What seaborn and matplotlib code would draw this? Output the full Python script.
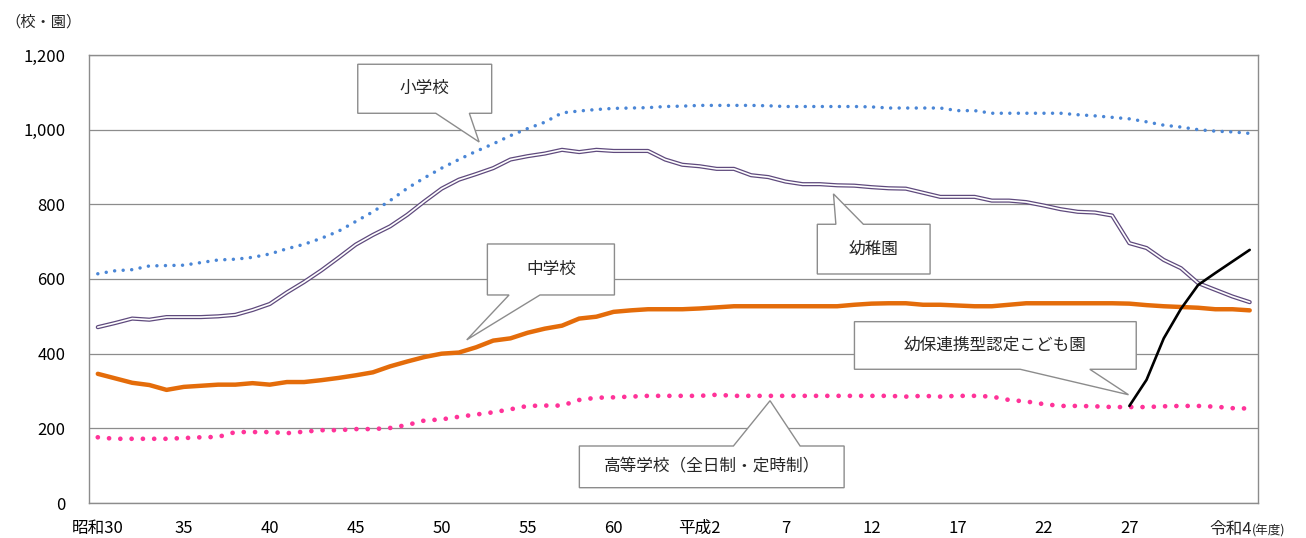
import numpy as np
import pandas as pd
import matplotlib
matplotlib.use("Agg")
import matplotlib.pyplot as plt
from matplotlib.patches import Polygon
from matplotlib.ticker import FuncFormatter, FixedLocator
import seaborn as sns

# 年度 (昭和30 = 1955 … 令和4 = 2022)
years = list(range(1955, 2023))

elementary = [614, 622, 625, 635, 636, 637, 644, 651, 653, 658,
              667, 681, 693, 709, 728, 754, 780, 810, 843, 871,
              897, 920, 942, 962, 984, 1003, 1020, 1045, 1050, 1054,
              1057, 1058, 1059, 1062, 1063, 1065, 1065, 1065, 1065, 1064,
              1062, 1062, 1062, 1062, 1062, 1061, 1058, 1058, 1058, 1058,
              1051, 1051, 1044, 1044, 1044, 1044, 1044, 1040, 1037, 1033,
              1029, 1021, 1012, 1007, 1000, 996, 994, 990]

kindergarten = [471, 482, 494, 491, 498, 498, 498, 500, 504, 517,
                533, 564, 592, 623, 657, 692, 718, 741, 772, 808,
                842, 866, 881, 897, 920, 929, 936, 946, 940, 946,
                943, 943, 943, 920, 906, 902, 895, 895, 878, 873,
                861, 854, 854, 851, 850, 846, 843, 842, 831, 820,
                820, 820, 810, 810, 806, 797, 787, 780, 778, 770,
                696, 683, 651, 629, 589, 571, 553, 538]

junior_high = [346, 334, 322, 316, 303, 311, 314, 317, 317, 321,
               317, 324, 324, 329, 335, 342, 350, 366, 379, 391,
               400, 403, 417, 435, 441, 456, 467, 475, 494, 499,
               512, 516, 519, 519, 519, 521, 524, 527, 527, 527,
               527, 527, 527, 527, 531, 534, 535, 535, 531, 531,
               529, 527, 527, 531, 535, 535, 535, 535, 535, 535,
               534, 530, 527, 525, 523, 519, 519, 516]

high_school = [176, 172, 172, 172, 172, 174, 176, 177, 190, 190,
               190, 187, 191, 195, 195, 198, 198, 201, 209, 221,
               224, 231, 237, 243, 251, 260, 261, 261, 276, 282,
               283, 285, 287, 287, 287, 287, 290, 287, 287, 287,
               287, 287, 287, 287, 287, 287, 287, 285, 287, 285,
               287, 287, 285, 276, 272, 265, 260, 260, 259, 257,
               257, 257, 259, 260, 260, 258, 254, 253]

# 幼保連携型認定こども園 (平成27年度から)
kodomoen = [np.nan] * 60 + [260, 330, 441, 520, 584, 616, 647, 678]

tick_years = [1955, 1960, 1965, 1970, 1975, 1980, 1985,
              1990, 1995, 2000, 2005, 2010, 2015]
tick_labels = ["昭和30", "35", "40", "45", "50", "55", "60",
               "平成2", "7", "12", "17", "22", "27"]

sns.set_style("white")
plt.rcParams["font.family"] = ["Noto Sans CJK JP", "DejaVu Sans"]

W, H = 1306, 538
fig = plt.figure(figsize=(W / 100, H / 100), dpi=100)
ax = fig.add_axes([89.2 / W, 1 - 503 / H, (1258.3 - 89.2) / W, (503 - 55) / H])

idx = np.arange(len(years))
df = pd.DataFrame({
    "i": idx,
    "小学校": elementary,
    "幼稚園": kindergarten,
    "中学校": junior_high,
    "高等学校": high_school,
    "こども園": kodomoen,
})

# 高等学校: pink round dots
sns.lineplot(data=df, x="i", y="高等学校", ax=ax, color="#ff3399", linewidth=3.4,
             linestyle=(0, (0.01, 2.38)), dash_capstyle="round", zorder=3)
# 中学校: thick orange
sns.lineplot(data=df, x="i", y="中学校", ax=ax, color="#e46c0a", linewidth=3.2,
             solid_capstyle="round", zorder=3)
# 幼稚園: double line (purple with white core)
sns.lineplot(data=df, x="i", y="幼稚園", ax=ax, color="#5f4a7d", linewidth=3.0, zorder=3)
sns.lineplot(data=df, x="i", y="幼稚園", ax=ax, color="white", linewidth=1.2, zorder=3.1)
# 小学校: blue round dots
sns.lineplot(data=df, x="i", y="小学校", ax=ax, color="#4a86d6", linewidth=2.5,
             linestyle=(0, (0.01, 2.45)), dash_capstyle="round", zorder=3)
# 幼保連携型認定こども園: black
sns.lineplot(data=df.dropna(), x="i", y="こども園", ax=ax, color="black", linewidth=1.9,
             zorder=4)

ax.set_xlim(-0.5, len(years) - 0.5)
ax.set_ylim(0, 1200)
ax.set_xlabel("")
ax.set_ylabel("")

# y axis
ax.set_yticks(range(0, 1201, 200))
ax.yaxis.set_major_formatter(FuncFormatter(lambda v, p: f"{int(v):,}"))
ax.tick_params(axis="y", length=0, pad=17, labelsize=12, labelcolor="black")
ax.yaxis.grid(True, color="#8c8c8c", linewidth=0.9)
ax.xaxis.grid(False)
ax.set_axisbelow(True)

# x axis: labels at category centres, tick marks at category boundaries
pos = [years.index(y) for y in tick_years]
ax.xaxis.set_major_locator(FixedLocator(pos))
ax.set_xticklabels(tick_labels)
ax.tick_params(axis="x", which="major", length=0, pad=12, labelsize=12,
               labelcolor="black")
ax.xaxis.set_minor_locator(FixedLocator([p - 0.5 for p in pos[1:]] + [64.5]))
ax.tick_params(axis="x", which="minor", direction="in", length=5, width=0.9,
               color="#8c8c8c")

for s in ax.spines.values():
    s.set_color("#8c8c8c")
    s.set_linewidth(1.0)
    s.set_visible(True)

# final year label
ax.annotate("令和4", xy=(67.14, 0), xycoords="data", xytext=(0, -13),
            textcoords="offset points", ha="right", va="top", fontsize=12)
ax.annotate("(年度)", xy=(67.14, 0), xycoords="data", xytext=(0, -15.5),
            textcoords="offset points", ha="left", va="top", fontsize=9)

fig.text(5 / W, 1 - 22 / H, "（校・園）", ha="left", va="center", fontsize=11)


def callout(text, box, base, tip, side):
    x0, x1, y0, y1 = box
    b1, b2 = base
    if side == "bottom":
        verts = [(x0, y1), (x1, y1), (x1, y0), (b2, y0), tip, (b1, y0), (x0, y0)]
    else:
        verts = [(x0, y0), (x1, y0), (x1, y1), (b2, y1), tip, (b1, y1), (x0, y1)]
    ax.add_patch(Polygon(verts, closed=True, facecolor="white", edgecolor="#8c8c8c",
                         linewidth=1.0, zorder=5, clip_on=False))
    ax.text((x0 + x1) / 2, (y0 + y1) / 2, text, ha="center", va="center",
            fontsize=12, zorder=6)


callout("小学校", (15.12, 22.91, 1043.9, 1175.2), (19.66, 21.61), (22.18, 967), "bottom")
callout("幼稚園", (41.85, 48.41, 613.4, 746.6), (42.93, 44.53), (42.79, 828), "top")
callout("中学校", (22.66, 30.05, 557.2, 693.8), (23.92, 25.72), (21.46, 437), "bottom")
callout("幼保連携型認定こども園", (44.01, 60.40, 358.2, 485.7), (53.65, 57.70),
        (59.95, 290), "bottom")
callout("高等学校（全日制・定時制）", (28.01, 43.41, 41.0, 152.7), (36.97, 40.85),
        (39.10, 274), "top")

fig.savefig("out.png", dpi=100)
